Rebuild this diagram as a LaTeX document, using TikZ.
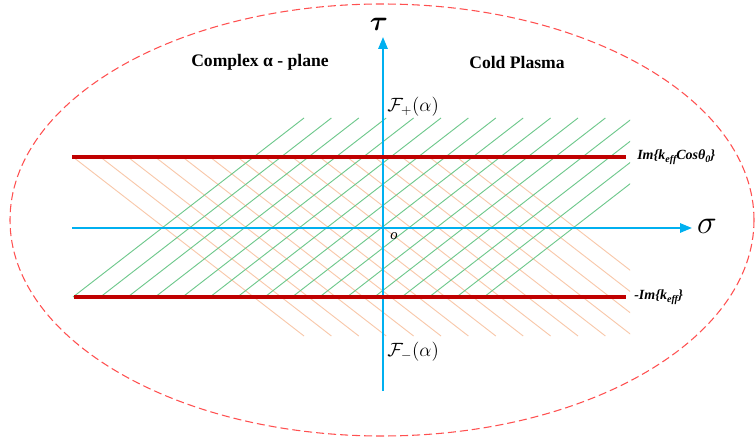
\documentclass[tikz,border=0pt]{standalone}
\usepackage{amsmath}
\usepackage{fontspec}
\setmainfont{Liberation Serif}
\usetikzlibrary{arrows.meta}
\definecolor{axisblue}{RGB}{0,176,240}
\definecolor{darkred}{RGB}{192,0,0}
\definecolor{hatchgreen}{RGB}{110,200,140}
\definecolor{hatchorange}{RGB}{248,200,170}
\definecolor{ellred}{RGB}{255,80,80}
\tikzset{
  axisline/.style={draw=axisblue, line width=1.5pt, -{Triangle[length=9pt,width=7pt]}},
  bandline/.style={draw=darkred, line width=3pt},
  greenhatch/.style={draw=hatchgreen, line width=0.7pt},
  orangehatch/.style={draw=hatchorange, line width=0.7pt},
  boundary/.style={draw=ellred, dashed, line width=0.8pt, dash pattern=on 6pt off 3pt},
  titletext/.style={font=\fontsize{13.2}{15}\selectfont\bfseries},
  sidelabel/.style={font=\fontsize{10.5}{12}\selectfont\bfseries\itshape, anchor=west, inner sep=0pt},
  biglabel/.style={font=\fontsize{22}{24}\selectfont, inner sep=0pt},
  flabel/.style={font=\fontsize{14}{16}\selectfont, inner sep=0pt, anchor=west}
}
\begin{document}
\begin{tikzpicture}[x=0.75pt,y=-0.75pt]
\useasboundingbox (0,0) rectangle (756,441);
% boundary ellipse
\draw[boundary] (382,220) ellipse [x radius=372, y radius=216];
% hatching
\begin{scope}
  \clip (72,100) rectangle (630,360);
  \foreach \i in {0,...,15} {
    \draw[orangehatch] ({73+27.4*\i},157) -- ({73+27.4*\i+231},336);
  }
  \foreach \i in {0,...,15} {
    \draw[greenhatch] ({73+27.4*\i},297) -- ({73+27.4*\i+231},118);
  }
\end{scope}
% coordinates
\coordinate (hl) at (72,228);
\coordinate (hr) at (692,228);
\coordinate (vb) at (383,391);
\coordinate (vt) at (383,37);
\coordinate (ul) at (72,157);
\coordinate (ur) at (626,157);
\coordinate (ll) at (74,297);
\coordinate (lr) at (626,297);
% axes
\draw[axisline] (hl) -- (hr);
\draw[axisline] (vb) -- (vt);
% bands
\draw[bandline] (ul) -- (ur);
\draw[bandline] (ll) -- (lr);
% labels
\node[biglabel] (tau) at (379,24) {$\boldsymbol{\tau}$};
\node[font=\fontsize{25}{26}\selectfont, inner sep=0pt] (sigma) at (707,226) {$\sigma$};
\node[titletext] (cplane) at (260,62) {Complex α - plane};
\node[titletext] (cold) at (517,62) {Cold Plasma};
\node[flabel] (fplus) at (387,107) {$\mathcal{F}_{+}(\alpha)$};
\node[flabel] (fminus) at (387,352) {$\mathcal{F}_{-}(\alpha)$};
\node[font=\fontsize{11}{12}\selectfont\itshape, inner sep=0pt] (orig) at (394,236) {o};
\node[sidelabel] (upl) at (637,157) {Im\{k\raisebox{-0.45ex}{\fontsize{7.5}{8}\selectfont eff}Cosθ\raisebox{-0.45ex}{\fontsize{7.5}{8}\selectfont 0}\}};
\node[sidelabel] (lol) at (634,297) {-Im\{k\raisebox{-0.45ex}{\fontsize{7.5}{8}\selectfont eff}\}};
\end{tikzpicture}
\end{document}
